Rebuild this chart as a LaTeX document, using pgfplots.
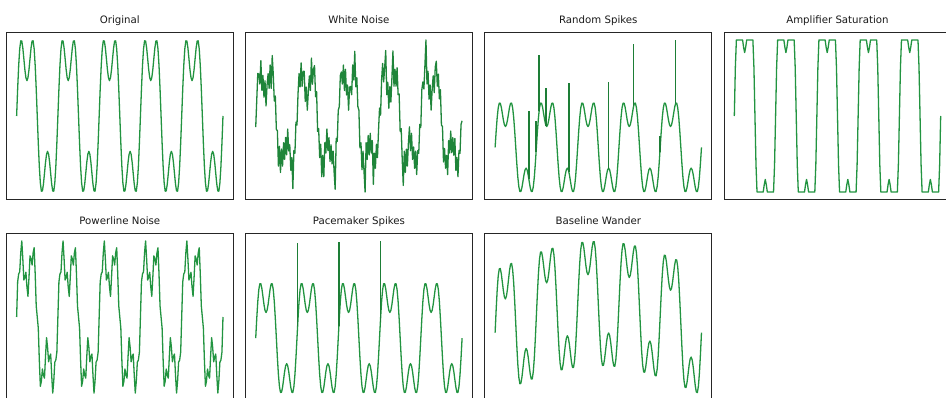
\documentclass[border=0pt]{standalone}
\usepackage{pgfplots}
\pgfplotsset{compat=1.18}
\usepackage{pgfplotstable}
\usepackage{fontspec}
\setmainfont{DejaVu Sans}
\definecolor{sig}{RGB}{34,148,64}
\pgfplotsset{
  panel/.style={width=227pt,height=167.4pt,scale only axis,anchor=south west,
    xmin=-10,xmax=210,xtick=\empty,ytick=\empty,
    axis line style={black!85,line width=0.9pt},
    every axis title/.style={at={(0.5,1)},anchor=base,yshift=9.2pt,font=\fontsize{10.2}{12}\selectfont,text=black!90}},
  sigline/.style={sig,line width=1.3pt,no marks,line join=round},
  spk/.style={sig!85!black,line width=1.6pt,no marks}
}
\pgfplotstableread{
k o s p w n
0 0 0 0 0 -0.2
1 0.383 0.383 0.583 0.391 0.433
2 0.714 0.6 0.714 0.730 1.064
3 0.948 0.6 0.748 0.972 1.048
4 1.063 0.6 1.063 1.094 0.813
5 1.061 0.6 1.261 1.100 1.361
6 0.964 0.6 0.964 1.011 0.664
7 0.813 0.6 0.613 0.868 1.013
8 0.657 0.6 0.657 0.720 0.507
9 0.542 0.542 0.742 0.612 0.892
10 0.5 0.5 0.5 0.578 0.3
11 0.542 0.542 0.342 0.628 0.792
12 0.657 0.6 0.657 0.751 1.057
13 0.813 0.6 1.013 0.914 0.713
14 0.964 0.6 0.964 1.073 1.264
15 1.061 0.6 0.861 1.178 0.711
16 1.063 0.6 1.063 1.187 1.483
17 0.948 0.6 1.148 1.080 1.048
18 0.714 0.6 0.714 0.853 0.414
19 0.383 0.383 0.183 0.530 0.533
20 0 0 0 0.155 -0.25
21 -0.383 -0.383 -0.183 -0.221 -0.283
22 -0.714 -0.6 -0.714 -0.545 -1.114
23 -0.948 -0.6 -1.148 -0.771 -0.648
24 -1.063 -0.6 -1.063 -0.879 -1.263
25 -1.061 -0.6 -0.861 -0.870 -0.711
26 -0.964 -0.6 -0.964 -0.765 -1.114
27 -0.813 -0.6 -1.013 -0.607 -0.563
28 -0.657 -0.6 -0.657 -0.444 -0.957
29 -0.542 -0.542 -0.342 -0.322 -0.442
30 -0.5 -0.5 -0.5 -0.273 -0.85
31 -0.542 -0.542 -0.742 -0.308 -0.242
32 -0.657 -0.6 -0.657 -0.416 -0.757
33 -0.813 -0.6 -0.613 -0.565 -0.613
34 -0.964 -0.6 -0.964 -0.709 -1.214
35 -1.061 -0.6 -1.261 -0.800 -0.911
36 -1.063 -0.6 -1.063 -0.795 -1.643
37 -0.948 -0.6 -0.748 -0.673 -0.748
38 -0.714 -0.6 -0.714 -0.433 -0.814
39 -0.383 -0.383 -0.583 -0.095 -0.083
40 0 0 0 0.294 -0.15
41 0.383 0.383 0.583 0.683 0.583
42 0.714 0.6 0.714 1.020 1.064
43 0.948 0.6 0.748 1.261 0.748
44 1.063 0.6 1.063 1.382 1.313
45 1.061 0.6 1.261 1.386 0.761
46 0.964 0.6 0.964 1.295 1.114
47 0.813 0.6 0.613 1.150 1.113
48 0.657 0.6 0.657 0.999 0.407
49 0.542 0.542 0.742 0.890 0.742
50 0.5 0.5 0.5 0.854 0.2
51 0.542 0.542 0.342 0.901 0.642
52 0.657 0.6 0.657 1.022 1.007
53 0.813 0.6 1.013 1.183 0.663
54 0.964 0.6 0.964 1.339 1.424
55 1.061 0.6 0.861 1.441 0.811
56 1.063 0.6 1.063 1.448 1.163
57 0.948 0.6 1.148 1.338 1.248
58 0.714 0.6 0.714 1.109 0.514
59 0.383 0.383 0.183 0.783 0.633
60 0 0 0 0.405 -0.3
61 -0.383 -0.383 -0.183 0.026 -0.233
62 -0.714 -0.6 -0.714 -0.300 -0.914
63 -0.948 -0.6 -1.148 -0.530 -0.598
64 -1.063 -0.6 -1.063 -0.641 -1.363
65 -1.061 -0.6 -0.861 -0.635 -0.861
66 -0.964 -0.6 -0.964 -0.534 -1.364
67 -0.813 -0.6 -1.013 -0.379 -0.563
68 -0.657 -0.6 -0.657 -0.219 -0.807
69 -0.542 -0.542 -0.342 -0.100 -0.242
70 -0.5 -0.5 -0.5 -0.054 -0.75
71 -0.542 -0.542 -0.742 -0.093 -0.442
72 -0.657 -0.6 -0.657 -0.205 -1.007
73 -0.813 -0.6 -0.613 -0.357 -0.613
74 -0.964 -0.6 -0.964 -0.505 -1.064
75 -1.061 -0.6 -1.261 -0.599 -0.761
76 -1.063 -0.6 -1.063 -0.598 -1.263
77 -0.948 -0.6 -0.748 -0.480 -1.658
78 -0.714 -0.6 -0.714 -0.244 -0.464
79 -0.383 -0.383 -0.583 0.090 -0.533
80 0 0 0 0.476 0.2
81 0.383 0.383 0.583 0.861 0.283
82 0.714 0.6 0.714 1.194 1.014
83 0.948 0.6 0.748 1.430 1.098
84 1.063 0.6 1.063 1.547 0.813
85 1.061 0.6 1.261 1.547 1.261
86 0.964 0.6 0.964 1.452 0.664
87 0.813 0.6 0.613 1.303 1.163
88 0.657 0.6 0.657 1.148 0.557
89 0.542 0.542 0.742 1.035 0.792
90 0.5 0.5 0.5 0.994 0.2
91 0.542 0.542 0.342 1.037 0.742
92 0.657 0.6 0.657 1.153 0.757
93 0.813 0.6 1.013 1.310 0.563
94 0.964 0.6 0.964 1.462 1.264
95 1.061 0.6 0.861 1.559 0.911
96 1.063 0.6 1.063 1.562 1.583
97 0.948 0.6 1.148 1.447 0.748
98 0.714 0.6 0.714 1.214 0.964
99 0.383 0.383 0.183 0.883 0.283
100 0 0 0 0.5 0.2
101 -0.383 -0.383 -0.183 0.117 -0.683
102 -0.714 -0.6 -0.714 -0.214 -0.564
103 -0.948 -0.6 -1.148 -0.449 -1.198
104 -1.063 -0.6 -1.063 -0.564 -0.763
105 -1.061 -0.6 -0.861 -0.563 -1.261
106 -0.964 -0.6 -0.964 -0.466 -1.724
107 -0.813 -0.6 -1.013 -0.316 -0.563
108 -0.657 -0.6 -0.657 -0.161 -0.957
109 -0.542 -0.542 -0.342 -0.047 -0.392
110 -0.5 -0.5 -0.5 -0.006 -0.85
111 -0.542 -0.542 -0.742 -0.049 -0.342
112 -0.657 -0.6 -0.657 -0.166 -0.807
113 -0.813 -0.6 -0.613 -0.323 -0.513
114 -0.964 -0.6 -0.964 -0.476 -1.544
115 -1.061 -0.6 -1.261 -0.575 -0.811
116 -1.063 -0.6 -1.063 -0.579 -1.163
117 -0.948 -0.6 -0.748 -0.466 -0.598
118 -0.714 -0.6 -0.714 -0.234 -0.914
119 -0.383 -0.383 -0.583 0.095 -0.283
120 0 0 0 0.476 0.25
121 0.383 0.383 0.583 0.856 0.083
122 0.714 0.6 0.714 1.184 0.914
123 0.948 0.6 0.748 1.416 1.298
124 1.063 0.6 1.063 1.528 0.863
125 1.061 0.6 1.261 1.523 1.211
126 0.964 0.6 0.964 1.423 1.604
127 0.813 0.6 0.613 1.269 0.563
128 0.657 0.6 0.657 1.109 0.857
129 0.542 0.542 0.742 0.991 0.242
130 0.5 0.5 0.5 0.946 0.75
131 0.542 0.542 0.342 0.984 0.392
132 0.657 0.6 0.657 1.095 0.957
133 0.813 0.6 1.013 1.247 1.593
134 0.964 0.6 0.964 1.394 0.764
135 1.061 0.6 0.861 1.487 1.161
136 1.063 0.6 1.063 1.485 0.763
137 0.948 0.6 1.148 1.366 1.198
138 0.714 0.6 0.714 1.128 0.564
139 0.383 0.383 0.183 0.792 0.583
140 0 0 0 0.405 -0.3
141 -0.383 -0.383 -0.183 0.017 -0.233
142 -0.714 -0.6 -0.714 -0.319 -0.964
143 -0.948 -0.6 -1.148 -0.558 -1.568
144 -1.063 -0.6 -1.063 -0.678 -0.763
145 -1.061 -0.6 -0.861 -0.681 -1.261
146 -0.964 -0.6 -0.964 -0.589 -0.714
147 -0.813 -0.6 -1.013 -0.443 -1.113
148 -0.657 -0.6 -0.657 -0.292 -0.557
149 -0.542 -0.542 -0.342 -0.183 -0.192
150 -0.5 -0.5 -0.5 -0.146 -0.75
151 -0.542 -0.542 -0.742 -0.194 -0.342
152 -0.657 -0.6 -0.657 -0.315 -0.957
153 -0.813 -0.6 -0.613 -0.476 -0.663
154 -0.964 -0.6 -0.964 -0.633 -1.164
155 -1.061 -0.6 -1.261 -0.736 -0.761
156 -1.063 -0.6 -1.063 -0.744 -1.313
157 -0.948 -0.6 -0.748 -0.635 -0.748
158 -0.714 -0.6 -0.714 -0.408 -0.814
159 -0.383 -0.383 -0.583 -0.083 -0.133
160 0 0 0 0.294 -0.2
161 0.383 0.383 0.583 0.671 0.683
162 0.714 0.6 0.714 0.995 0.864
163 0.948 0.6 0.748 1.223 0.698
164 1.063 0.6 1.063 1.331 1.263
165 1.061 0.6 1.261 1.322 1.851
166 0.964 0.6 0.964 1.219 0.814
167 0.813 0.6 0.613 1.061 1.113
168 0.657 0.6 0.657 0.898 0.457
169 0.542 0.542 0.742 0.776 0.792
170 0.5 0.5 0.5 0.727 0.2
171 0.542 0.542 0.342 0.762 0.692
172 0.657 0.6 0.657 0.870 1.007
173 0.813 0.6 1.013 1.019 0.613
174 0.964 0.6 0.964 1.163 1.214
175 1.061 0.6 0.861 1.252 1.351
176 1.063 0.6 1.063 1.247 0.763
177 0.948 0.6 1.148 1.125 1.048
178 0.714 0.6 0.714 0.883 0.464
179 0.383 0.383 0.183 0.545 0.683
180 0 0 0 0.155 -0.15
181 -0.383 -0.383 -0.183 -0.236 -0.183
182 -0.714 -0.6 -0.714 -0.575 -1.014
183 -0.948 -0.6 -1.148 -0.816 -0.698
184 -1.063 -0.6 -1.063 -0.939 -1.163
185 -1.061 -0.6 -0.861 -0.944 -0.861
186 -0.964 -0.6 -0.964 -0.855 -1.314
187 -0.813 -0.6 -1.013 -0.712 -0.513
188 -0.657 -0.6 -0.657 -0.563 -0.807
189 -0.542 -0.542 -0.342 -0.456 -0.292
190 -0.5 -0.5 -0.5 -0.422 -0.8
191 -0.542 -0.542 -0.742 -0.472 -0.442
192 -0.657 -0.6 -0.657 -0.594 -0.857
193 -0.813 -0.6 -0.613 -0.758 -0.463
194 -0.964 -0.6 -0.964 -0.917 -1.214
195 -1.061 -0.6 -1.261 -1.022 -0.911
196 -1.063 -0.6 -1.063 -1.032 -1.363
197 -0.948 -0.6 -0.748 -0.924 -0.748
198 -0.714 -0.6 -0.714 -0.698 -0.814
199 -0.383 -0.383 -0.583 -0.375 -0.133
200 0 0 0 0 -0.05
}\sigdata
\begin{document}
\begin{tikzpicture}
% Row 1
\begin{axis}[panel,at={(6.3pt,197.3pt)},ymin=-1.184,ymax=1.184,title={Original}]
\addplot[sigline] table[x=k,y=o]{\sigdata};
\end{axis}
\begin{axis}[panel,at={(245.4pt,197.3pt)},ymin=-1.903,ymax=2.030,title={White Noise}]
\addplot[sigline,line width=1.3pt,sig!90!black] table[x=k,y=n]{\sigdata};
\end{axis}
\begin{axis}[panel,at={(484.8pt,197.3pt)},ymin=-1.259,ymax=2.766,title={Random Spikes}]
\addplot[sigline] table[x=k,y=o]{\sigdata};
\addplot[spk] coordinates {(32.6,-0.751) (32.6,0.874)};
\addplot[spk] coordinates {(39.7,-0.115) (39.7,0.63)};
\addplot[spk] coordinates {(42.7,0.878) (42.7,2.22)};
\addplot[spk] coordinates {(49.4,0.525) (49.4,1.42)};
\addplot[spk] coordinates {(71.4,-0.588) (71.4,1.535)};
\addplot[spk] coordinates {(109.7,-0.513) (109.7,1.575)};
\addplot[spk] coordinates {(134.2,0.983) (134.2,2.486)};
\addplot[spk] coordinates {(159.7,-0.115) (159.7,0.27)};
\addplot[spk] coordinates {(175.0,1.061) (175.0,2.583)};
\end{axis}
\begin{axis}[panel,at={(724.0pt,197.3pt)},ymin=-0.66,ymax=0.66,title={Amplifier Saturation}]
\addplot[sigline] table[x=k,y=s]{\sigdata};
\end{axis}
% Row 2
\begin{axis}[panel,at={(6.3pt,-3.7pt)},ymin=-1.387,ymax=1.387,title={Powerline Noise}]
\addplot[sigline] table[x=k,y=p]{\sigdata};
\end{axis}
\begin{axis}[panel,at={(245.4pt,-3.7pt)},ymin=-1.225,ymax=2.049,title={Pacemaker Spikes}]
\addplot[sigline] table[x=k,y=o]{\sigdata};
\addplot[spk] coordinates {(40.6,0.23) (40.6,1.85)};
\addplot[spk] coordinates {(80.6,0.23) (80.6,1.87)};
\addplot[spk] coordinates {(120.8,0.31) (120.8,1.90)};
\end{axis}
\begin{axis}[panel,at={(484.8pt,-3.7pt)},ymin=-1.171,ymax=1.706,title={Baseline Wander}]
\addplot[sigline] table[x=k,y=w]{\sigdata};
\end{axis}
\pgfresetboundingbox
\path[use as bounding box] (0,0) rectangle (946pt,397pt);
\end{tikzpicture}
\end{document}
